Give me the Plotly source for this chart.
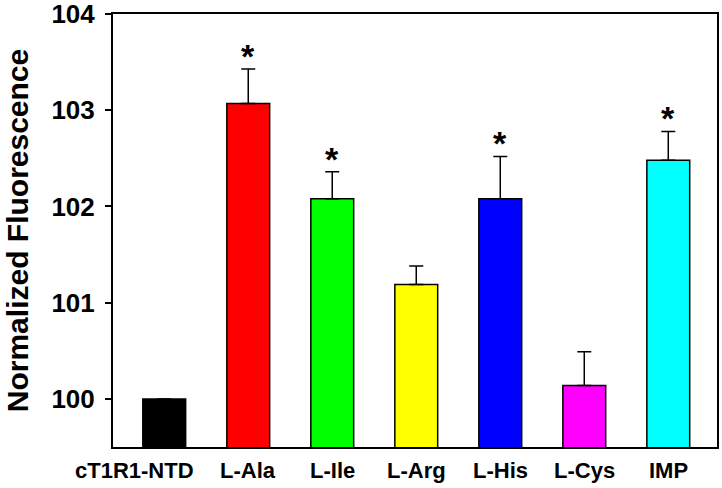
import plotly.graph_objects as go

categories = ["cT1R1-NTD", "L-Ala", "L-Ile", "L-Arg", "L-His", "L-Cys", "IMP"]
values = [100.0, 103.07, 102.08, 101.19, 102.08, 100.14, 102.48]
errors = [0.0, 0.36, 0.28, 0.19, 0.44, 0.35, 0.30]
significant = [False, True, True, False, True, False, True]
colors = ["#000000", "#FF0000", "#00FF00", "#FFFF00", "#0000FF", "#FF00FF", "#00FFFF"]
y_ticks = [100, 101, 102, 103, 104]

FONT = "Liberation Sans, Arial, sans-serif"

fig = go.Figure()
fig.add_trace(go.Bar(
    x=categories,
    y=values,
    width=0.51,
    marker=dict(color=colors, line=dict(color="black", width=1.5)),
    error_y=dict(type="data", array=errors, arrayminus=[0] * len(errors),
                 symmetric=False, color="black", thickness=1.5, width=7,
                 visible=True),
    showlegend=False,
))

for c, v, e, s in zip(categories, values, errors, significant):
    if s:
        fig.add_annotation(x=c, y=v + e, text="*", showarrow=False,
                           xref="x", yref="y", yanchor="bottom", yshift=-8,
                           font=dict(family=FONT, size=34, color="black", weight="bold"))

# category labels under the axis (first one sits a little to the left, as in the original)
for i, c in enumerate(categories):
    fig.add_annotation(x=c, y=0, xref="x", yref="paper", text=c, showarrow=False,
                       yanchor="top", yshift=-9, xshift=-30 if i == 0 else 0,
                       font=dict(family=FONT, size=22, color="black", weight="bold"))

fig.update_layout(
    width=722, height=488,
    margin=dict(l=113, r=5, t=14, b=41),
    paper_bgcolor="white", plot_bgcolor="white",
    bargap=0.49,
)
fig.update_xaxes(
    range=[-0.61, 6.58],
    automargin=False,
    showticklabels=False,
    showline=True, linecolor="black", linewidth=2, mirror=True,
    ticks="", showgrid=False, zeroline=False,
)
fig.update_yaxes(
    range=[99.5, 104.0005],
    automargin=False,
    tickvals=y_ticks,
    ticklabeloverflow="allow",
    ticklabelstandoff=5,
    showline=True, linecolor="black", linewidth=2, mirror=True,
    ticks="outside", ticklen=6, tickwidth=2, tickcolor="black",
    showgrid=False, zeroline=False,
    tickfont=dict(family=FONT, size=26, color="black", weight="bold"),
    title=dict(text="Normalized Fluorescence", standoff=14,
               font=dict(family=FONT, size=30, color="black", weight="bold")),
)

fig.write_html("out.html", config={"displayModeBar": False},
               post_script="document.body.style.margin='0';")
